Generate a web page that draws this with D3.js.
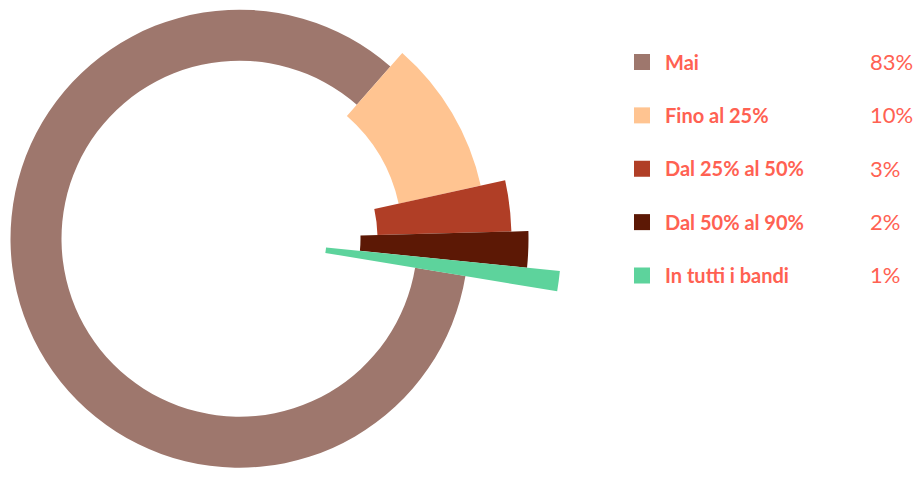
<!DOCTYPE html>
<html>
<head>
<meta charset="utf-8">
<script src="https://cdn.jsdelivr.net/npm/d3@7"></script>
<style>
  html, body { margin: 0; padding: 0; background: #fff; }
  svg { display: block; }
</style>
</head>
<body>
<svg id="chart" width="923" height="477"></svg>
<script>
const categories = ["Mai", "Fino al 25%", "Dal 25% al 50%", "Dal 50% al 90%", "In tutti i bandi"];
const values = [83, 10, 3, 2, 1];
const valueLabels = ["83%", "10%", "3%", "2%", "1%"];

const colors = ["#9e776d", "#ffc491", "#b03e26", "#5c1805", "#5dd39c"];
const innerRadii = [178, 163, 138, 121, 87];
const outerRadii = [229, 247, 272, 289, 322];

const svg = d3.select("#chart");
const cx = 239.5, cy = 238.7;
const start = 99.4 * Math.PI / 180;

const pie = d3.pie().sort(null).value(d => d.v).startAngle(start).endAngle(start + 2 * Math.PI);
const data = categories.map((c, i) => ({ c, v: values[i], i }));
const arcs = pie(data);

const g = svg.append("g").attr("transform", `translate(${cx},${cy})`);
g.selectAll("path").data(arcs).join("path")
  .attr("d", d => d3.arc().innerRadius(innerRadii[d.data.i]).outerRadius(outerRadii[d.data.i])(d))
  .attr("fill", d => colors[d.data.i]);

const y = d3.scalePoint().domain(categories).range([62, 275.5]);
const leg = svg.append("g");
const rows = leg.selectAll("g").data(data).join("g")
  .attr("transform", d => `translate(0,${y(d.c)})`);
rows.append("rect").attr("x", 634).attr("y", -8).attr("width", 16).attr("height", 16)
  .attr("fill", d => colors[d.i]);
rows.append("text").attr("x", 665).attr("y", 0).attr("dy", "0.38em")
  .attr("font-family", "Lato, sans-serif").attr("font-weight", 700).attr("font-size", 20)
  .attr("fill", "#ff6152").text(d => d.c);
rows.append("text").attr("x", 870).attr("y", 0).attr("dy", "0.36em")
  .attr("font-family", "Lato, sans-serif").attr("font-weight", 400).attr("font-size", 22)
  .attr("fill", "#ff6152").text(d => valueLabels[d.i]);
</script>
</body>
</html>
